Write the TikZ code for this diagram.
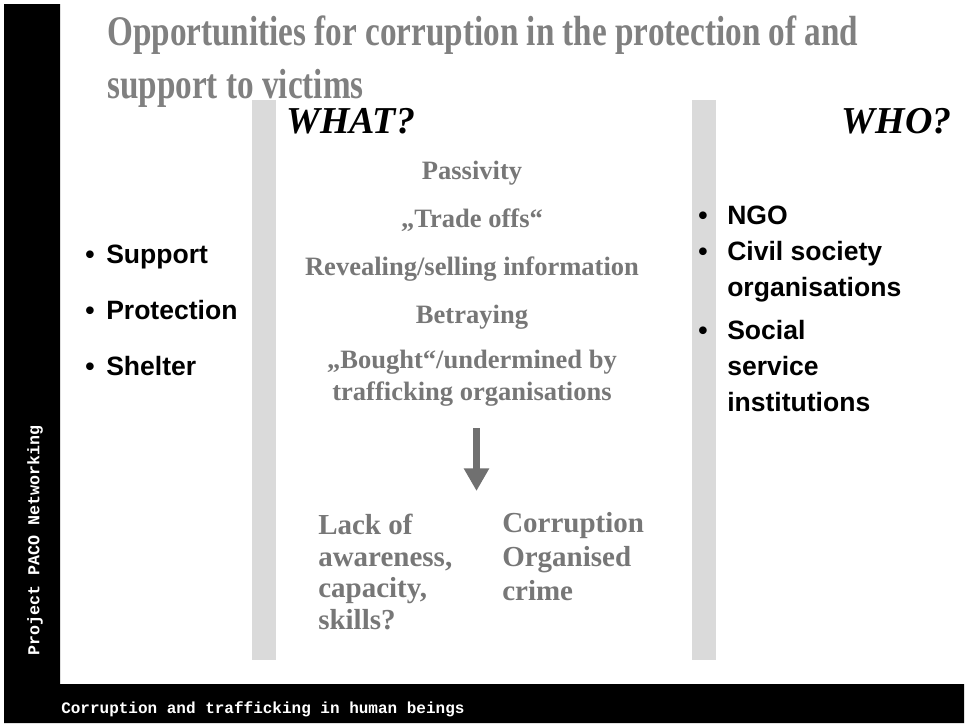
\documentclass[tikz,border=0pt]{standalone}
\usepackage{fontspec}
\setmainfont{Liberation Serif}
\setsansfont{Liberation Sans}
\setmonofont{Liberation Mono}
\usetikzlibrary{arrows.meta}
\definecolor{titlegray}{RGB}{128,128,128}
\definecolor{whatgray}{RGB}{119,119,119}
\definecolor{bargray}{RGB}{218,218,218}
\definecolor{arrowgray}{RGB}{112,112,112}
\tikzset{
  title/.style={font=\bfseries\fontsize{24.9}{31.3}\selectfont, text=titlegray,
    anchor=base west, inner sep=0pt},
  head/.style={font=\bfseries\itshape\fontsize{28.5}{34}\selectfont, inner sep=0pt},
  what/.style={font=\bfseries\fontsize{19.9}{23.8}\selectfont, text=whatgray,
    anchor=base, align=center, inner sep=0pt},
  cause/.style={font=\bfseries\fontsize{21.75}{23.6}\selectfont, text=whatgray,
    anchor=base west, align=left, inner sep=0pt},
  item/.style={font=\sffamily\bfseries\fontsize{19.9}{27}\selectfont,
    anchor=base west, align=left, inner sep=0pt},
  bul/.style={font=\sffamily\bfseries\fontsize{19.9}{27}\selectfont,
    anchor=base, inner sep=0pt},
  flow/.style={draw=arrowgray, line width=5.25pt,
    -{Triangle[width=18pt,length=17pt]}},
  side/.style={font=\ttfamily\bfseries\fontsize{12}{15}\selectfont,
    text=white, inner sep=0pt}
}
\begin{document}
\begin{tikzpicture}[x=0.75pt,y=-0.75pt]
\useasboundingbox (0,0) rectangle (967,725);
% frame and column bars
\fill[black] (4,4) -- (60,4) -- (60,684) -- (964,684) -- (964,723) -- (4,723) -- cycle;
\fill[bargray] (252,100) rectangle (276,660);
\fill[bargray] (692,100) rectangle (716,660);

\node[title] (title) at (107,98) {\scalebox{1}[1.27]{\begin{tabular}[b]{@{}l@{}}Opportunities for corruption in the protection of and\\support to victims\end{tabular}}};
\node[head, anchor=base west] (what) at (286,133) {WHAT?};
\node[head, anchor=base east] (who) at (952,133) {WHO?};

% left list
\node[bul] (b1) at (90,263) {\textbullet};
\node[item] (support) at (106,263) {Support};
\node[bul] (b2) at (90,319) {\textbullet};
\node[item] (protect) at (106,319) {Protection};
\node[bul] (b3) at (90,375) {\textbullet};
\node[item] (shelter) at (106,375) {Shelter};

% middle column
\node[what] (passiv) at (472,179) {Passivity};
\node[what] (trade) at (472,227) {„Trade offs“};
\node[what] (reveal) at (472,275) {Revealing/selling information};
\node[what] (betray) at (472,323) {Betraying};
\node[what] (bought) at (472,400) {„Bought“/undermined by\\trafficking organisations};
\coordinate (arrtop) at (476.5,428);
\coordinate (arrtip) at (476.5,491);
\draw[flow] (arrtop) -- (arrtip);
\node[cause] (lack) at (318,629) {Lack of\\awareness,\\capacity,\\skills?};
\node[cause, font=\bfseries\fontsize{21.75}{25.5}\selectfont] (corr) at (502,600) {Corruption\\Organised\\crime};

% right list
\node[bul] (b4) at (703,224) {\textbullet};
\node[item] (ngo) at (727,224) {NGO};
\node[bul] (b5) at (703,260) {\textbullet};
\node[item] (civil) at (727,296) {Civil society\\organisations};
\node[bul] (b6) at (703,339) {\textbullet};
\node[item] (social) at (727,411) {Social\\service\\institutions};

% frame texts
\node[side, rotate=90, font=\ttfamily\bfseries\fontsize{12.5}{15}\selectfont] (proj) at (35,540) {Project PACO Networking};
\node[side, anchor=base west] (foot) at (61,713) {Corruption and trafficking in human beings};
\end{tikzpicture}
\end{document}
